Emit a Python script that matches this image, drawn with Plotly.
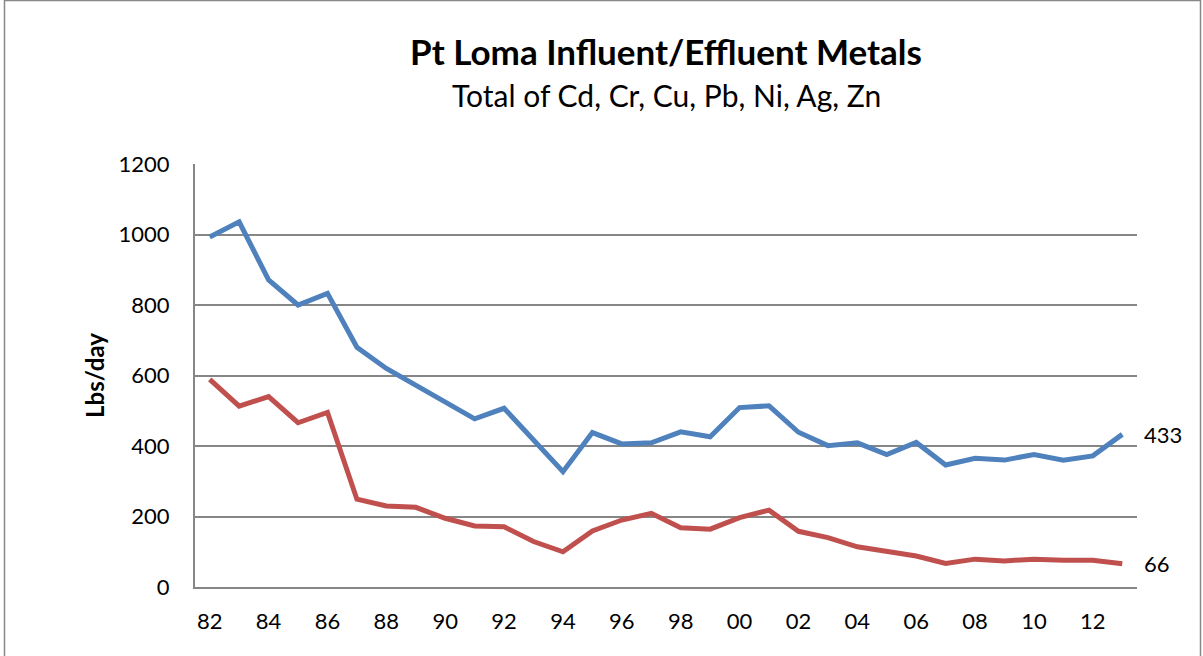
import plotly.graph_objects as go

years = ["82", "83", "84", "85", "86", "87", "88", "89", "90", "91", "92", "93", "94", "95", "96", "97",
         "98", "99", "00", "01", "02", "03", "04", "05", "06", "07", "08", "09", "10", "11", "12", "13"]
influent = [993, 1036, 871, 800, 833, 680, 620, 573, 526, 477, 507, 417, 327, 438, 406, 409,
            440, 426, 509, 514, 439, 401, 409, 376, 410, 346, 365, 360, 376, 360, 372, 433]
effluent = [589, 513, 540, 466, 495, 249, 230, 226, 195, 173, 171, 129, 100, 159, 190, 209,
            168, 164, 197, 218, 158, 140, 114, 100, 88, 67, 79, 74, 79, 76, 76, 66]
tick_labels = years[::2]

FONT = "Lato, Calibri, Carlito, sans-serif"
BLUE = "#4F81BD"
RED = "#C0504D"
GRID = "#868686"

xs = list(range(len(years)))

fig = go.Figure()
fig.add_trace(go.Scatter(x=xs, y=influent, mode="lines", name="Influent",
                         line=dict(color=BLUE, width=5), hoverinfo="x+y"))
fig.add_trace(go.Scatter(x=xs, y=effluent, mode="lines", name="Effluent",
                         line=dict(color=RED, width=5), hoverinfo="x+y"))

for series in (influent, effluent):
    fig.add_annotation(x=xs[-1], y=series[-1], text=str(series[-1]), showarrow=False,
                       xanchor="left", yanchor="middle", xshift=20,
                       font=dict(family=FONT, size=22, color="#000000"))

fig.add_annotation(xref="paper", yref="paper", x=0.5, y=1.0, yshift=113,
                   text="<b>Pt Loma Influent/Effluent Metals</b>", showarrow=False,
                   xanchor="center", yanchor="middle",
                   font=dict(family=FONT, size=35, color="#000000"))
fig.add_annotation(xref="paper", yref="paper", x=0.5, y=1.0, yshift=69,
                   text="Total of Cd, Cr, Cu, Pb, Ni, Ag, Zn", showarrow=False,
                   xanchor="center", yanchor="middle",
                   font=dict(family=FONT, size=30, color="#000000"))

# outer chart frame
fig.add_shape(type="rect", xref="paper", yref="paper",
              x0=(4.5 - 195) / 942, x1=(1200.5 - 195) / 942,
              y0=-0.5, y1=(587 - 0.5) / 423,
              line=dict(color="#888888", width=1.5), fillcolor="rgba(0,0,0,0)", layer="below")

fig.update_layout(
    width=1203, height=656,
    margin=dict(l=195, r=66, t=164, b=69),
    paper_bgcolor="white", plot_bgcolor="white",
    showlegend=False,
    font=dict(family=FONT, color="#000000"),
    xaxis=dict(range=[-0.5, len(years) - 0.5], tickmode="array",
               tickvals=xs[::2], ticktext=tick_labels,
               showgrid=False, zeroline=False, showline=True, linecolor=GRID, linewidth=2,
               ticks="", ticklen=0, ticklabelstandoff=14,
               tickfont=dict(family=FONT, size=22, color="#000000")),
    yaxis=dict(range=[0, 1200], dtick=200, tickmode="linear",
               showgrid=True, gridcolor=GRID, gridwidth=1.5,
               zeroline=False, showline=True, linecolor=GRID, linewidth=2,
               ticks="", ticklen=0, ticklabelstandoff=19,
               tickfont=dict(family=FONT, size=22, color="#000000"),
               title=dict(text="<b>Lbs/day</b>", font=dict(family=FONT, size=24, color="#000000"),
                          standoff=7)),
)

fig.write_html("out.html", config={"displayModeBar": False},
               post_script="document.body.style.margin='0';")
